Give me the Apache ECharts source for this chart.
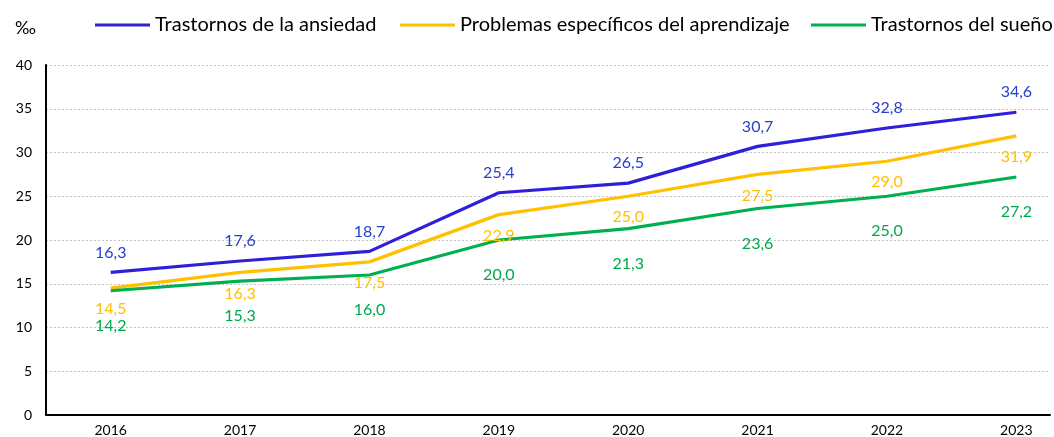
<!DOCTYPE html>
<html><head><meta charset="utf-8">
<script src="https://cdn.jsdelivr.net/npm/echarts@6/dist/echarts.min.js"></script>
<style>html,body{margin:0;padding:0;background:#fff}#c{width:1054px;height:437px}</style>
</head><body><div id="c"></div>
<script>
const years = [2016, 2017, 2018, 2019, 2020, 2021, 2022, 2023];
const ansiedad = [16.3, 17.6, 18.7, 25.4, 26.5, 30.7, 32.8, 34.6];
const aprendizaje = [14.5, 16.3, 17.5, 22.9, 25.0, 27.5, 29.0, 31.9];
const sueno = [14.2, 15.3, 16.0, 20.0, 21.3, 23.6, 25.0, 27.2];
const seriesNames = ['Trastornos de la ansiedad', 'Problemas específicos del aprendizaje', 'Trastornos del sueño'];
const yTicks = [0, 5, 10, 15, 20, 25, 30, 35, 40];
const unit = '‰';

const FONT = 'Lato, "Open Sans", sans-serif';
const fmt = v => v.toFixed(1).replace('.', ',');
const pairs = arr => years.map((y, i) => [y, arr[i]]);

function mk(name, data, color, labelColor, pos, dist) {
  return {
    name, type: 'line', data: pairs(data), symbol: 'circle', symbolSize: 0, showSymbol: true,
    lineStyle: { color, width: 3.2 }, itemStyle: { color },
    label: { show: true, position: pos, distance: dist, color: labelColor,
      fontFamily: FONT, fontSize: 16, formatter: p => fmt(p.value[1]) }
  };
}
const legendAt = (name, left) => ({
  top: 10, left, itemWidth: 55, itemHeight: 3, icon: 'rect',
  textStyle: { fontFamily: FONT, fontSize: 20, color: '#000' },
  data: [name]
});

const chart = echarts.init(document.getElementById('c'));
chart.setOption({
  animation: false,
  title: { text: unit, left: 10, top: 14, textStyle: { fontFamily: FONT, fontSize: 18, fontWeight: 'normal', color: '#000' } },
  legend: [legendAt(seriesNames[0], 90), legendAt(seriesNames[1], 395), legendAt(seriesNames[2], 806)],
  grid: { left: 46, right: 4, top: 65, bottom: 20, containLabel: false },
  xAxis: {
    type: 'value', min: 2015.5, max: 2023.26, interval: 0.5,
    axisLine: { show: true, lineStyle: { color: '#000', width: 2 } },
    axisTick: { show: false }, splitLine: { show: false },
    axisLabel: { color: '#000', fontFamily: FONT, fontSize: 14, margin: 8, showMaxLabel: false,
      formatter: v => (Math.abs(v - Math.round(v)) < 1e-6 && years.includes(Math.round(v))) ? String(Math.round(v)) : '' }
  },
  yAxis: {
    type: 'value', min: yTicks[0], max: yTicks[yTicks.length - 1], interval: 5,
    axisLine: { show: true, lineStyle: { color: '#000', width: 2 } },
    axisTick: { show: false },
    splitLine: { show: true, lineStyle: { color: '#c4c4c4', type: [2, 2], width: 1 } },
    axisLabel: { color: '#000', fontFamily: FONT, fontSize: 14, margin: 14 }
  },
  series: [
    mk(seriesNames[0], ansiedad, '#2f1fd8', '#2541cc', 'top', 12),
    mk(seriesNames[1], aprendizaje, '#ffc000', '#ffc000', 'bottom', 13),
    mk(seriesNames[2], sueno, '#00b050', '#00a84c', 'bottom', 27)
  ]
});
</script></body></html>
